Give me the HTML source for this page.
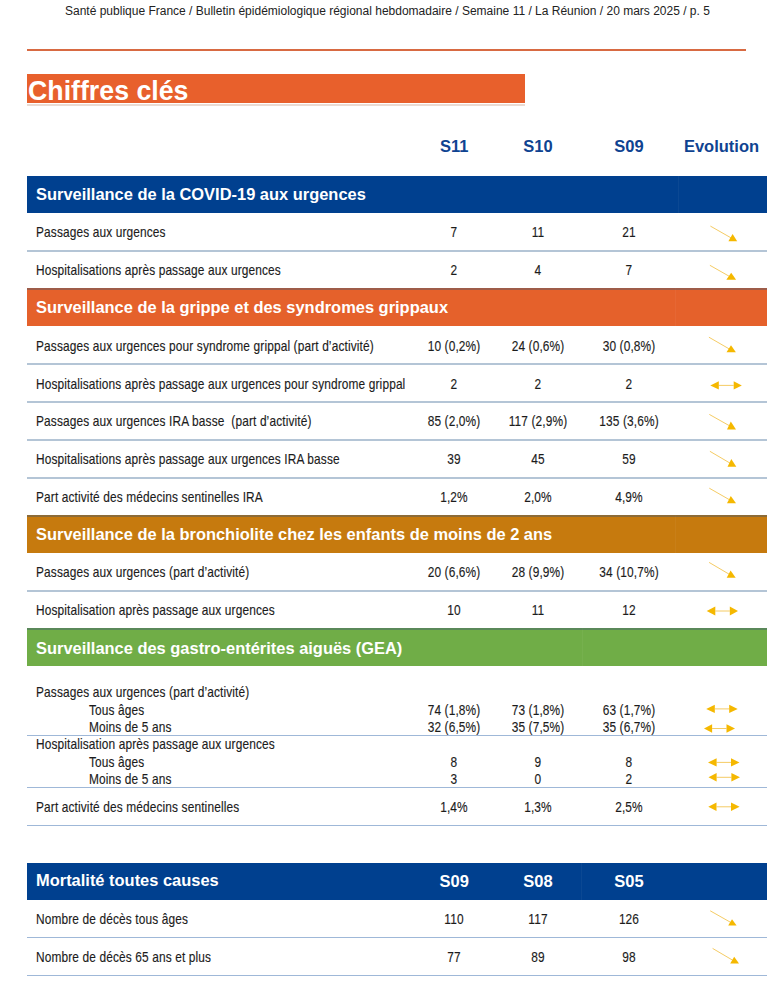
<!DOCTYPE html>
<html><head><meta charset="utf-8"><title>Chiffres clés</title>
<style>
html,body{margin:0;padding:0;background:#fff;}
body{width:767px;height:1000px;position:relative;overflow:hidden;font-family:"Liberation Sans",sans-serif;}
.t{position:absolute;white-space:nowrap;line-height:1;}
.r{position:absolute;}
.arr{position:absolute;left:0;top:0;}
</style></head><body>
<div class="t" style="left:65.00px;top:5.04px;font-size:12px;font-weight:400;color:#222;transform:scaleX(1.0);transform-origin:0 0;">Santé publique France / Bulletin épidémiologique régional hebdomadaire / Semaine 11 / La Réunion / 20 mars 2025 / p. 5</div><div class="r" style="left:27.00px;top:48.70px;width:718.60px;height:2.30px;background:#d86a42;"></div><div class="r" style="left:27.40px;top:74.10px;width:497.60px;height:28.50px;background:#e8602c;"></div><div class="r" style="left:27.40px;top:103.60px;width:497.60px;height:2.60px;background:#eadbd3;"></div><div class="t" style="left:28.00px;top:77.94px;font-size:27px;font-weight:700;color:#fff;transform:scaleX(0.99);transform-origin:0 0;">Chiffres clés</div><div class="t" style="left:154.30px;width:600px;text-align:center;top:138.13px;font-size:16.5px;font-weight:700;color:#0f4391;transform:scaleX(1.0);transform-origin:50% 0;">S11</div><div class="t" style="left:238.00px;width:600px;text-align:center;top:138.13px;font-size:16.5px;font-weight:700;color:#0f4391;transform:scaleX(1.0);transform-origin:50% 0;">S10</div><div class="t" style="left:329.00px;width:600px;text-align:center;top:138.13px;font-size:16.5px;font-weight:700;color:#0f4391;transform:scaleX(1.0);transform-origin:50% 0;">S09</div><div class="t" style="left:421.50px;width:600px;text-align:center;top:138.13px;font-size:16.5px;font-weight:700;color:#0f4391;transform:scaleX(1.0);transform-origin:50% 0;">Evolution</div><div class="r" style="left:27.40px;top:176.00px;width:739.60px;height:36.80px;background:#00408f;"></div><div class="r" style="left:678.00px;top:176.00px;width:1.00px;height:36.80px;background:rgba(255,255,255,0.045);"></div><div class="t" style="left:35.80px;top:186.01px;font-size:17px;font-weight:700;color:#fff;transform:scaleX(0.967);transform-origin:0 0;">Surveillance de la COVID-19 aux urgences</div><div class="t" style="left:35.50px;top:224.83px;font-size:14.5px;font-weight:400;color:#1c1c1c;transform:scaleX(0.82);transform-origin:0 0;-webkit-text-stroke:0.15px currentColor;letter-spacing:0.16px;">Passages aux urgences</div><div class="t" style="left:154.30px;width:600px;text-align:center;top:224.83px;font-size:14.5px;font-weight:400;color:#1c1c1c;transform:scaleX(0.82);transform-origin:50% 0;-webkit-text-stroke:0.15px currentColor;letter-spacing:0.16px;">7</div><div class="t" style="left:238.00px;width:600px;text-align:center;top:224.83px;font-size:14.5px;font-weight:400;color:#1c1c1c;transform:scaleX(0.82);transform-origin:50% 0;-webkit-text-stroke:0.15px currentColor;letter-spacing:0.16px;">11</div><div class="t" style="left:329.00px;width:600px;text-align:center;top:224.83px;font-size:14.5px;font-weight:400;color:#1c1c1c;transform:scaleX(0.82);transform-origin:50% 0;-webkit-text-stroke:0.15px currentColor;letter-spacing:0.16px;">21</div><div class="r" style="left:27.40px;top:249.60px;width:739.60px;height:2.00px;background:#b4c5d6;"></div><div class="t" style="left:35.50px;top:263.33px;font-size:14.5px;font-weight:400;color:#1c1c1c;transform:scaleX(0.82);transform-origin:0 0;-webkit-text-stroke:0.15px currentColor;letter-spacing:0.16px;">Hospitalisations après passage aux urgences</div><div class="t" style="left:154.30px;width:600px;text-align:center;top:263.33px;font-size:14.5px;font-weight:400;color:#1c1c1c;transform:scaleX(0.82);transform-origin:50% 0;-webkit-text-stroke:0.15px currentColor;letter-spacing:0.16px;">2</div><div class="t" style="left:238.00px;width:600px;text-align:center;top:263.33px;font-size:14.5px;font-weight:400;color:#1c1c1c;transform:scaleX(0.82);transform-origin:50% 0;-webkit-text-stroke:0.15px currentColor;letter-spacing:0.16px;">4</div><div class="t" style="left:329.00px;width:600px;text-align:center;top:263.33px;font-size:14.5px;font-weight:400;color:#1c1c1c;transform:scaleX(0.82);transform-origin:50% 0;-webkit-text-stroke:0.15px currentColor;letter-spacing:0.16px;">7</div><div class="r" style="left:27.40px;top:288.00px;width:739.60px;height:37.90px;background:#e5612b;"></div><div class="r" style="left:675.00px;top:288.00px;width:1.00px;height:37.90px;background:rgba(255,255,255,0.045);"></div><div class="r" style="left:27.40px;top:288.00px;width:739.60px;height:1.80px;background:rgba(60,85,115,0.42);"></div><div class="t" style="left:35.80px;top:299.21px;font-size:17px;font-weight:700;color:#fff;transform:scaleX(0.967);transform-origin:0 0;">Surveillance de la grippe et des syndromes grippaux</div><div class="t" style="left:35.50px;top:339.13px;font-size:14.5px;font-weight:400;color:#1c1c1c;transform:scaleX(0.82);transform-origin:0 0;-webkit-text-stroke:0.15px currentColor;letter-spacing:0.16px;">Passages aux urgences pour syndrome grippal (part d’activité)</div><div class="t" style="left:154.30px;width:600px;text-align:center;top:339.13px;font-size:14.5px;font-weight:400;color:#1c1c1c;transform:scaleX(0.82);transform-origin:50% 0;-webkit-text-stroke:0.15px currentColor;letter-spacing:0.16px;">10 (0,2%)</div><div class="t" style="left:238.00px;width:600px;text-align:center;top:339.13px;font-size:14.5px;font-weight:400;color:#1c1c1c;transform:scaleX(0.82);transform-origin:50% 0;-webkit-text-stroke:0.15px currentColor;letter-spacing:0.16px;">24 (0,6%)</div><div class="t" style="left:329.00px;width:600px;text-align:center;top:339.13px;font-size:14.5px;font-weight:400;color:#1c1c1c;transform:scaleX(0.82);transform-origin:50% 0;-webkit-text-stroke:0.15px currentColor;letter-spacing:0.16px;">30 (0,8%)</div><div class="r" style="left:27.40px;top:362.80px;width:739.60px;height:2.00px;background:#b4c5d6;"></div><div class="t" style="left:35.50px;top:376.83px;font-size:14.5px;font-weight:400;color:#1c1c1c;transform:scaleX(0.82);transform-origin:0 0;-webkit-text-stroke:0.15px currentColor;letter-spacing:0.16px;">Hospitalisations après passage aux urgences pour syndrome grippal</div><div class="t" style="left:154.30px;width:600px;text-align:center;top:376.83px;font-size:14.5px;font-weight:400;color:#1c1c1c;transform:scaleX(0.82);transform-origin:50% 0;-webkit-text-stroke:0.15px currentColor;letter-spacing:0.16px;">2</div><div class="t" style="left:238.00px;width:600px;text-align:center;top:376.83px;font-size:14.5px;font-weight:400;color:#1c1c1c;transform:scaleX(0.82);transform-origin:50% 0;-webkit-text-stroke:0.15px currentColor;letter-spacing:0.16px;">2</div><div class="t" style="left:329.00px;width:600px;text-align:center;top:376.83px;font-size:14.5px;font-weight:400;color:#1c1c1c;transform:scaleX(0.82);transform-origin:50% 0;-webkit-text-stroke:0.15px currentColor;letter-spacing:0.16px;">2</div><div class="r" style="left:27.40px;top:401.00px;width:739.60px;height:2.00px;background:#b4c5d6;"></div><div class="t" style="left:35.50px;top:413.83px;font-size:14.5px;font-weight:400;color:#1c1c1c;transform:scaleX(0.82);transform-origin:0 0;-webkit-text-stroke:0.15px currentColor;letter-spacing:0.16px;">Passages aux urgences IRA basse&nbsp; (part d’activité)</div><div class="t" style="left:154.30px;width:600px;text-align:center;top:413.83px;font-size:14.5px;font-weight:400;color:#1c1c1c;transform:scaleX(0.82);transform-origin:50% 0;-webkit-text-stroke:0.15px currentColor;letter-spacing:0.16px;">85 (2,0%)</div><div class="t" style="left:238.00px;width:600px;text-align:center;top:413.83px;font-size:14.5px;font-weight:400;color:#1c1c1c;transform:scaleX(0.82);transform-origin:50% 0;-webkit-text-stroke:0.15px currentColor;letter-spacing:0.16px;">117 (2,9%)</div><div class="t" style="left:329.00px;width:600px;text-align:center;top:413.83px;font-size:14.5px;font-weight:400;color:#1c1c1c;transform:scaleX(0.82);transform-origin:50% 0;-webkit-text-stroke:0.15px currentColor;letter-spacing:0.16px;">135 (3,6%)</div><div class="r" style="left:27.40px;top:438.80px;width:739.60px;height:2.00px;background:#b4c5d6;"></div><div class="t" style="left:35.50px;top:451.83px;font-size:14.5px;font-weight:400;color:#1c1c1c;transform:scaleX(0.82);transform-origin:0 0;-webkit-text-stroke:0.15px currentColor;letter-spacing:0.16px;">Hospitalisations après passage aux urgences IRA basse</div><div class="t" style="left:154.30px;width:600px;text-align:center;top:451.83px;font-size:14.5px;font-weight:400;color:#1c1c1c;transform:scaleX(0.82);transform-origin:50% 0;-webkit-text-stroke:0.15px currentColor;letter-spacing:0.16px;">39</div><div class="t" style="left:238.00px;width:600px;text-align:center;top:451.83px;font-size:14.5px;font-weight:400;color:#1c1c1c;transform:scaleX(0.82);transform-origin:50% 0;-webkit-text-stroke:0.15px currentColor;letter-spacing:0.16px;">45</div><div class="t" style="left:329.00px;width:600px;text-align:center;top:451.83px;font-size:14.5px;font-weight:400;color:#1c1c1c;transform:scaleX(0.82);transform-origin:50% 0;-webkit-text-stroke:0.15px currentColor;letter-spacing:0.16px;">59</div><div class="r" style="left:27.40px;top:476.80px;width:739.60px;height:2.00px;background:#b4c5d6;"></div><div class="t" style="left:35.50px;top:489.53px;font-size:14.5px;font-weight:400;color:#1c1c1c;transform:scaleX(0.82);transform-origin:0 0;-webkit-text-stroke:0.15px currentColor;letter-spacing:0.16px;">Part activité des médecins sentinelles IRA</div><div class="t" style="left:154.30px;width:600px;text-align:center;top:489.53px;font-size:14.5px;font-weight:400;color:#1c1c1c;transform:scaleX(0.82);transform-origin:50% 0;-webkit-text-stroke:0.15px currentColor;letter-spacing:0.16px;">1,2%</div><div class="t" style="left:238.00px;width:600px;text-align:center;top:489.53px;font-size:14.5px;font-weight:400;color:#1c1c1c;transform:scaleX(0.82);transform-origin:50% 0;-webkit-text-stroke:0.15px currentColor;letter-spacing:0.16px;">2,0%</div><div class="t" style="left:329.00px;width:600px;text-align:center;top:489.53px;font-size:14.5px;font-weight:400;color:#1c1c1c;transform:scaleX(0.82);transform-origin:50% 0;-webkit-text-stroke:0.15px currentColor;letter-spacing:0.16px;">4,9%</div><div class="r" style="left:27.40px;top:515.30px;width:739.60px;height:37.70px;background:#c67a0e;"></div><div class="r" style="left:675.00px;top:515.30px;width:1.00px;height:37.70px;background:rgba(255,255,255,0.045);"></div><div class="r" style="left:27.40px;top:515.30px;width:739.60px;height:1.50px;background:rgba(60,85,115,0.42);"></div><div class="t" style="left:35.80px;top:526.01px;font-size:17px;font-weight:700;color:#fff;transform:scaleX(0.967);transform-origin:0 0;">Surveillance de la bronchiolite chez les enfants de moins de 2 ans</div><div class="t" style="left:35.50px;top:565.33px;font-size:14.5px;font-weight:400;color:#1c1c1c;transform:scaleX(0.82);transform-origin:0 0;-webkit-text-stroke:0.15px currentColor;letter-spacing:0.16px;">Passages aux urgences (part d’activité)</div><div class="t" style="left:154.30px;width:600px;text-align:center;top:565.33px;font-size:14.5px;font-weight:400;color:#1c1c1c;transform:scaleX(0.82);transform-origin:50% 0;-webkit-text-stroke:0.15px currentColor;letter-spacing:0.16px;">20 (6,6%)</div><div class="t" style="left:238.00px;width:600px;text-align:center;top:565.33px;font-size:14.5px;font-weight:400;color:#1c1c1c;transform:scaleX(0.82);transform-origin:50% 0;-webkit-text-stroke:0.15px currentColor;letter-spacing:0.16px;">28 (9,9%)</div><div class="t" style="left:329.00px;width:600px;text-align:center;top:565.33px;font-size:14.5px;font-weight:400;color:#1c1c1c;transform:scaleX(0.82);transform-origin:50% 0;-webkit-text-stroke:0.15px currentColor;letter-spacing:0.16px;">34 (10,7%)</div><div class="r" style="left:27.40px;top:589.60px;width:739.60px;height:2.00px;background:#b4c5d6;"></div><div class="t" style="left:35.50px;top:603.33px;font-size:14.5px;font-weight:400;color:#1c1c1c;transform:scaleX(0.82);transform-origin:0 0;-webkit-text-stroke:0.15px currentColor;letter-spacing:0.16px;">Hospitalisation après passage aux urgences</div><div class="t" style="left:154.30px;width:600px;text-align:center;top:603.33px;font-size:14.5px;font-weight:400;color:#1c1c1c;transform:scaleX(0.82);transform-origin:50% 0;-webkit-text-stroke:0.15px currentColor;letter-spacing:0.16px;">10</div><div class="t" style="left:238.00px;width:600px;text-align:center;top:603.33px;font-size:14.5px;font-weight:400;color:#1c1c1c;transform:scaleX(0.82);transform-origin:50% 0;-webkit-text-stroke:0.15px currentColor;letter-spacing:0.16px;">11</div><div class="t" style="left:329.00px;width:600px;text-align:center;top:603.33px;font-size:14.5px;font-weight:400;color:#1c1c1c;transform:scaleX(0.82);transform-origin:50% 0;-webkit-text-stroke:0.15px currentColor;letter-spacing:0.16px;">12</div><div class="r" style="left:27.40px;top:627.90px;width:739.60px;height:38.10px;background:#70ad47;"></div><div class="r" style="left:582.00px;top:627.90px;width:1.00px;height:38.10px;background:rgba(255,255,255,0.045);"></div><div class="r" style="left:27.40px;top:627.90px;width:739.60px;height:1.80px;background:rgba(60,85,115,0.42);"></div><div class="t" style="left:35.80px;top:639.71px;font-size:17px;font-weight:700;color:#fff;transform:scaleX(0.967);transform-origin:0 0;">Surveillance des gastro-entérites aiguës (GEA)</div><div class="t" style="left:36.00px;top:685.13px;font-size:14.5px;font-weight:400;color:#1c1c1c;transform:scaleX(0.82);transform-origin:0 0;-webkit-text-stroke:0.15px currentColor;letter-spacing:0.16px;">Passages aux urgences (part d’activité)</div><div class="t" style="left:89.00px;top:702.53px;font-size:14.5px;font-weight:400;color:#1c1c1c;transform:scaleX(0.82);transform-origin:0 0;-webkit-text-stroke:0.15px currentColor;letter-spacing:0.16px;">Tous âges</div><div class="t" style="left:89.00px;top:719.73px;font-size:14.5px;font-weight:400;color:#1c1c1c;transform:scaleX(0.82);transform-origin:0 0;-webkit-text-stroke:0.15px currentColor;letter-spacing:0.16px;">Moins de 5 ans</div><div class="t" style="left:154.30px;width:600px;text-align:center;top:703.33px;font-size:14.5px;font-weight:400;color:#1c1c1c;transform:scaleX(0.82);transform-origin:50% 0;-webkit-text-stroke:0.15px currentColor;letter-spacing:0.16px;">74 (1,8%)</div><div class="t" style="left:238.00px;width:600px;text-align:center;top:703.33px;font-size:14.5px;font-weight:400;color:#1c1c1c;transform:scaleX(0.82);transform-origin:50% 0;-webkit-text-stroke:0.15px currentColor;letter-spacing:0.16px;">73 (1,8%)</div><div class="t" style="left:329.00px;width:600px;text-align:center;top:703.33px;font-size:14.5px;font-weight:400;color:#1c1c1c;transform:scaleX(0.82);transform-origin:50% 0;-webkit-text-stroke:0.15px currentColor;letter-spacing:0.16px;">63 (1,7%)</div><div class="t" style="left:154.30px;width:600px;text-align:center;top:720.33px;font-size:14.5px;font-weight:400;color:#1c1c1c;transform:scaleX(0.82);transform-origin:50% 0;-webkit-text-stroke:0.15px currentColor;letter-spacing:0.16px;">32 (6,5%)</div><div class="t" style="left:238.00px;width:600px;text-align:center;top:720.33px;font-size:14.5px;font-weight:400;color:#1c1c1c;transform:scaleX(0.82);transform-origin:50% 0;-webkit-text-stroke:0.15px currentColor;letter-spacing:0.16px;">35 (7,5%)</div><div class="t" style="left:329.00px;width:600px;text-align:center;top:720.33px;font-size:14.5px;font-weight:400;color:#1c1c1c;transform:scaleX(0.82);transform-origin:50% 0;-webkit-text-stroke:0.15px currentColor;letter-spacing:0.16px;">35 (6,7%)</div><div class="r" style="left:27.40px;top:734.85px;width:739.60px;height:1.30px;background:#9fb8d8;"></div><div class="t" style="left:36.00px;top:737.33px;font-size:14.5px;font-weight:400;color:#1c1c1c;transform:scaleX(0.82);transform-origin:0 0;-webkit-text-stroke:0.15px currentColor;letter-spacing:0.16px;">Hospitalisation après passage aux urgences</div><div class="t" style="left:89.00px;top:754.53px;font-size:14.5px;font-weight:400;color:#1c1c1c;transform:scaleX(0.82);transform-origin:0 0;-webkit-text-stroke:0.15px currentColor;letter-spacing:0.16px;">Tous âges</div><div class="t" style="left:89.00px;top:771.73px;font-size:14.5px;font-weight:400;color:#1c1c1c;transform:scaleX(0.82);transform-origin:0 0;-webkit-text-stroke:0.15px currentColor;letter-spacing:0.16px;">Moins de 5 ans</div><div class="t" style="left:154.30px;width:600px;text-align:center;top:754.83px;font-size:14.5px;font-weight:400;color:#1c1c1c;transform:scaleX(0.82);transform-origin:50% 0;-webkit-text-stroke:0.15px currentColor;letter-spacing:0.16px;">8</div><div class="t" style="left:238.00px;width:600px;text-align:center;top:754.83px;font-size:14.5px;font-weight:400;color:#1c1c1c;transform:scaleX(0.82);transform-origin:50% 0;-webkit-text-stroke:0.15px currentColor;letter-spacing:0.16px;">9</div><div class="t" style="left:329.00px;width:600px;text-align:center;top:754.83px;font-size:14.5px;font-weight:400;color:#1c1c1c;transform:scaleX(0.82);transform-origin:50% 0;-webkit-text-stroke:0.15px currentColor;letter-spacing:0.16px;">8</div><div class="t" style="left:154.30px;width:600px;text-align:center;top:772.13px;font-size:14.5px;font-weight:400;color:#1c1c1c;transform:scaleX(0.82);transform-origin:50% 0;-webkit-text-stroke:0.15px currentColor;letter-spacing:0.16px;">3</div><div class="t" style="left:238.00px;width:600px;text-align:center;top:772.13px;font-size:14.5px;font-weight:400;color:#1c1c1c;transform:scaleX(0.82);transform-origin:50% 0;-webkit-text-stroke:0.15px currentColor;letter-spacing:0.16px;">0</div><div class="t" style="left:329.00px;width:600px;text-align:center;top:772.13px;font-size:14.5px;font-weight:400;color:#1c1c1c;transform:scaleX(0.82);transform-origin:50% 0;-webkit-text-stroke:0.15px currentColor;letter-spacing:0.16px;">2</div><div class="r" style="left:27.40px;top:786.75px;width:739.60px;height:1.30px;background:#9fb8d8;"></div><div class="t" style="left:35.50px;top:799.93px;font-size:14.5px;font-weight:400;color:#1c1c1c;transform:scaleX(0.82);transform-origin:0 0;-webkit-text-stroke:0.15px currentColor;letter-spacing:0.16px;">Part activité des médecins sentinelles</div><div class="t" style="left:154.30px;width:600px;text-align:center;top:799.93px;font-size:14.5px;font-weight:400;color:#1c1c1c;transform:scaleX(0.82);transform-origin:50% 0;-webkit-text-stroke:0.15px currentColor;letter-spacing:0.16px;">1,4%</div><div class="t" style="left:238.00px;width:600px;text-align:center;top:799.93px;font-size:14.5px;font-weight:400;color:#1c1c1c;transform:scaleX(0.82);transform-origin:50% 0;-webkit-text-stroke:0.15px currentColor;letter-spacing:0.16px;">1,3%</div><div class="t" style="left:329.00px;width:600px;text-align:center;top:799.93px;font-size:14.5px;font-weight:400;color:#1c1c1c;transform:scaleX(0.82);transform-origin:50% 0;-webkit-text-stroke:0.15px currentColor;letter-spacing:0.16px;">2,5%</div><div class="r" style="left:27.40px;top:824.55px;width:739.60px;height:1.30px;background:#9fb8d8;"></div><div class="r" style="left:27.40px;top:863.00px;width:739.60px;height:36.80px;background:#00408f;"></div><div class="r" style="left:581.40px;top:863.00px;width:1.00px;height:36.80px;background:rgba(255,255,255,0.045);"></div><div class="t" style="left:35.80px;top:872.41px;font-size:17px;font-weight:700;color:#fff;transform:scaleX(0.967);transform-origin:0 0;">Mortalité toutes causes</div><div class="t" style="left:154.30px;width:600px;text-align:center;top:872.83px;font-size:16.5px;font-weight:700;color:#fff;transform:scaleX(1.0);transform-origin:50% 0;">S09</div><div class="t" style="left:238.00px;width:600px;text-align:center;top:872.83px;font-size:16.5px;font-weight:700;color:#fff;transform:scaleX(1.0);transform-origin:50% 0;">S08</div><div class="t" style="left:329.00px;width:600px;text-align:center;top:872.83px;font-size:16.5px;font-weight:700;color:#fff;transform:scaleX(1.0);transform-origin:50% 0;">S05</div><div class="t" style="left:35.50px;top:912.33px;font-size:14.5px;font-weight:400;color:#1c1c1c;transform:scaleX(0.82);transform-origin:0 0;-webkit-text-stroke:0.15px currentColor;letter-spacing:0.16px;">Nombre de décès tous âges</div><div class="t" style="left:154.30px;width:600px;text-align:center;top:912.33px;font-size:14.5px;font-weight:400;color:#1c1c1c;transform:scaleX(0.82);transform-origin:50% 0;-webkit-text-stroke:0.15px currentColor;letter-spacing:0.16px;">110</div><div class="t" style="left:238.00px;width:600px;text-align:center;top:912.33px;font-size:14.5px;font-weight:400;color:#1c1c1c;transform:scaleX(0.82);transform-origin:50% 0;-webkit-text-stroke:0.15px currentColor;letter-spacing:0.16px;">117</div><div class="t" style="left:329.00px;width:600px;text-align:center;top:912.33px;font-size:14.5px;font-weight:400;color:#1c1c1c;transform:scaleX(0.82);transform-origin:50% 0;-webkit-text-stroke:0.15px currentColor;letter-spacing:0.16px;">126</div><div class="r" style="left:27.40px;top:936.65px;width:739.60px;height:1.30px;background:#9fb8d8;"></div><div class="t" style="left:35.50px;top:950.33px;font-size:14.5px;font-weight:400;color:#1c1c1c;transform:scaleX(0.82);transform-origin:0 0;-webkit-text-stroke:0.15px currentColor;letter-spacing:0.16px;">Nombre de décès 65 ans et plus</div><div class="t" style="left:154.30px;width:600px;text-align:center;top:950.33px;font-size:14.5px;font-weight:400;color:#1c1c1c;transform:scaleX(0.82);transform-origin:50% 0;-webkit-text-stroke:0.15px currentColor;letter-spacing:0.16px;">77</div><div class="t" style="left:238.00px;width:600px;text-align:center;top:950.33px;font-size:14.5px;font-weight:400;color:#1c1c1c;transform:scaleX(0.82);transform-origin:50% 0;-webkit-text-stroke:0.15px currentColor;letter-spacing:0.16px;">89</div><div class="t" style="left:329.00px;width:600px;text-align:center;top:950.33px;font-size:14.5px;font-weight:400;color:#1c1c1c;transform:scaleX(0.82);transform-origin:50% 0;-webkit-text-stroke:0.15px currentColor;letter-spacing:0.16px;">98</div><div class="r" style="left:27.40px;top:974.55px;width:739.60px;height:1.30px;background:#9fb8d8;"></div>
<svg class="arr" width="767" height="1000" viewBox="0 0 767 1000"><line x1="710.4" y1="226.1" x2="732.7" y2="238.8" stroke="#f3c552" stroke-width="0.9"/><polygon points="728.4,241.2 737.2,241.2 732.6,233.9" fill="#f5b800"/><line x1="709.9" y1="265.3" x2="731.2" y2="277.4" stroke="#f3c552" stroke-width="0.9"/><polygon points="726.3,279.8 736.1,279.8 731.2,272.7" fill="#f5b800"/><line x1="708.9" y1="337.2" x2="731.1" y2="350.0" stroke="#f3c552" stroke-width="0.9"/><polygon points="726.5,352.3 735.9,352.3 731,345.3" fill="#f5b800"/><line x1="718.8" y1="385.4" x2="733.7" y2="385.4" stroke="#f3c552" stroke-width="0.9"/><polygon points="710.3,385.4 718.8,381.2 718.8,389.59999999999997" fill="#f5b800"/><polygon points="741.8,385.4 733.7,381.2 733.7,389.59999999999997" fill="#f5b800"/><line x1="709.3" y1="414.4" x2="731.3" y2="426.8" stroke="#f3c552" stroke-width="0.9"/><polygon points="727,429.5 736,429.5 730.8,421.5" fill="#f5b800"/><line x1="709.9" y1="451.3" x2="731.7" y2="464.1" stroke="#f3c552" stroke-width="0.9"/><polygon points="727.5,466.7 736.3,466.7 731.3,459" fill="#f5b800"/><line x1="709.3" y1="488.2" x2="731.3" y2="500.8" stroke="#f3c552" stroke-width="0.9"/><polygon points="727,503.3 736,503.3 730.8,495.9" fill="#f5b800"/><line x1="709.1" y1="562.4" x2="731.0" y2="575.3" stroke="#f3c552" stroke-width="0.9"/><polygon points="726.7,577.7 735.7,577.7 730.6,570.6" fill="#f5b800"/><line x1="715.3" y1="611" x2="729.8" y2="611" stroke="#f3c552" stroke-width="0.9"/><polygon points="706.7,611 715.3,606.6 715.3,615.4" fill="#f5b800"/><polygon points="738,611 729.8,606.6 729.8,615.4" fill="#f5b800"/><line x1="714.8" y1="708.9" x2="729.2" y2="708.9" stroke="#f3c552" stroke-width="0.9"/><polygon points="706.2,708.9 714.8,704.6999999999999 714.8,713.1" fill="#f5b800"/><polygon points="737.7,708.9 729.2,704.6999999999999 729.2,713.1" fill="#f5b800"/><line x1="712.1" y1="728.5" x2="726.5" y2="728.5" stroke="#f3c552" stroke-width="0.9"/><polygon points="704,728.5 712.1,724.3 712.1,732.7" fill="#f5b800"/><polygon points="735,728.5 726.5,724.3 726.5,732.7" fill="#f5b800"/><line x1="716.6" y1="762.4" x2="731" y2="762.4" stroke="#f3c552" stroke-width="0.9"/><polygon points="708,762.4 716.6,758.1999999999999 716.6,766.6" fill="#f5b800"/><polygon points="739.5,762.4 731,758.1999999999999 731,766.6" fill="#f5b800"/><line x1="716.6" y1="777.3" x2="731.4" y2="777.3" stroke="#f3c552" stroke-width="0.9"/><polygon points="708.5,777.3 716.6,773.0999999999999 716.6,781.5" fill="#f5b800"/><polygon points="740,777.3 731.4,773.0999999999999 731.4,781.5" fill="#f5b800"/><line x1="716.5" y1="806.8" x2="731" y2="806.8" stroke="#f3c552" stroke-width="0.9"/><polygon points="708.3,806.8 716.5,802.5999999999999 716.5,811.0" fill="#f5b800"/><polygon points="739.6,806.8 731,802.5999999999999 731,811.0" fill="#f5b800"/><line x1="710.2" y1="910.8" x2="732.3" y2="923.3" stroke="#f3c552" stroke-width="0.9"/><polygon points="728.2,925.4 736.6,925.4 732,919.2" fill="#f5b800"/><line x1="712.6" y1="948.4" x2="734.5" y2="961.3" stroke="#f3c552" stroke-width="0.9"/><polygon points="730.2,963.6 739,963.6 734.2,956.8" fill="#f5b800"/></svg>
</body></html>
